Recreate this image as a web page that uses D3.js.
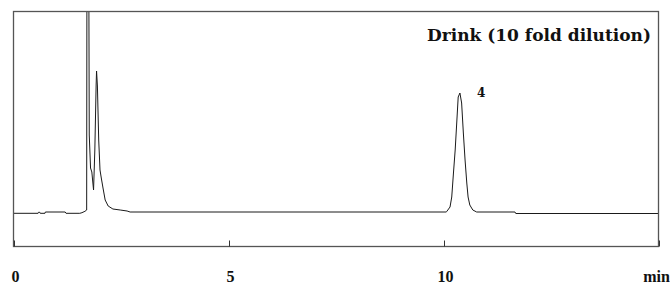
<!DOCTYPE html>
<html>
<head>
<meta charset="utf-8">
<script src="https://cdn.jsdelivr.net/npm/d3@7"></script>
<style>
  body { margin: 0; background: #fff; }
  svg { display: block; }
  .tick text { font-family: "Liberation Serif", "Times New Roman", serif; font-weight: bold; font-size: 16px; fill: #111; }
  .title { font-family: "DejaVu Serif", serif; font-weight: bold; font-size: 17px; fill: #111; }
  .peak { font-family: "DejaVu Serif", serif; font-weight: bold; font-size: 12px; fill: #111; }
</style>
</head>
<body>
<div id="chart"></div>
<script>
// retention time (min)
var times = [0, 0.56, 0.57, 0.60, 0.61, 0.72, 0.73, 1.19, 1.21, 1.53, 1.58, 1.65, 1.69,
  1.70, 1.73, 1.75, 1.78, 1.81, 1.85, 1.88, 1.91, 1.92, 1.94, 1.97, 2.00, 2.03, 2.07,
  2.12, 2.19, 2.30, 2.47, 2.63, 2.70, 10.05,
  10.06, 10.14, 10.18, 10.22, 10.26, 10.30, 10.33, 10.37, 10.41, 10.45, 10.49, 10.53,
  10.56, 10.60, 10.67, 10.76, 11.65, 11.67, 15];
// detector response (arbitrary units)
var signal = [-1.3, -1.3, -0.3, -0.3, -1.3, -1.3, 0, 0, -1.3, -1.3, -0.7, 0.7, 2,
  400, 400, 77, 44, 40, 22, 62, 127, 141, 126, 72, 42, 34, 24,
  12, 6, 3, 2, 1, 0, 0,
  0.3, 5, 15, 39, 62, 92, 115, 119, 109, 79, 52, 29,
  15, 7, 2, 0, 0, -1.5, -1.5];
var tickValues = [0, 5, 10, 15];
var tickLabels = ['0', '5', '10', 'min'];
var title = 'Drink (10 fold dilution)';
var peakLabels = [{ name: '4', time: 10.37, value: 119 }];

var width = 670, height = 284;
var plotLeft = 13, plotRight = 659, plotTop = 11, plotBottom = 246;

var svg = d3.select('#chart')
  .append('svg')
  .attr('width', width)
  .attr('height', height);

var x = d3.scaleLinear().domain([0, 15]).range([14, 659]);
var y = d3.scaleLinear().domain([-34, 201]).range([plotBottom, plotTop]);

svg.append('clipPath')
  .attr('id', 'plot')
  .append('rect')
  .attr('x', plotLeft)
  .attr('y', plotTop)
  .attr('width', plotRight - plotLeft)
  .attr('height', plotBottom - plotTop);

var points = times.map(function(t, i) { return [t, signal[i]]; });

var line = d3.line()
  .x(function(d) { return x(d[0]); })
  .y(function(d) { return y(d[1]); });

svg.append('path')
  .datum(points)
  .attr('clip-path', 'url(#plot)')
  .attr('fill', 'none')
  .attr('stroke', '#1a1a1a')
  .attr('stroke-width', 1)
  .attr('d', line);

// frame
svg.append('rect')
  .attr('x', plotLeft + 0.5)
  .attr('y', plotTop + 0.5)
  .attr('width', plotRight - plotLeft - 1)
  .attr('height', plotBottom - plotTop)
  .attr('fill', 'none')
  .attr('stroke', '#555')
  .attr('stroke-width', 1.3);

var axis = d3.axisBottom(x)
  .tickValues(tickValues)
  .tickSizeInner(-6)
  .tickSizeOuter(0)
  .tickPadding(24)
  .tickFormat(function(d, i) { return tickLabels[i]; });

var gx = svg.append('g')
  .attr('transform', 'translate(0,' + (plotBottom + 0.5) + ')')
  .call(axis);
gx.select('.domain').remove();
gx.selectAll('.tick line').attr('stroke', '#333');
gx.selectAll('.tick text')
  .attr('dx', function(d) { return d === 15 ? -3 : 1; });

svg.append('text')
  .attr('class', 'title')
  .attr('x', 651)
  .attr('y', 40.5)
  .attr('text-anchor', 'end')
  .text(title);

svg.selectAll('.peak')
  .data(peakLabels)
  .enter()
  .append('text')
  .attr('class', 'peak')
  .attr('x', function(d) { return x(d.time) + 17; })
  .attr('y', function(d) { return y(d.value) + 4; })
  .text(function(d) { return d.name; });
</script>
</body>
</html>
